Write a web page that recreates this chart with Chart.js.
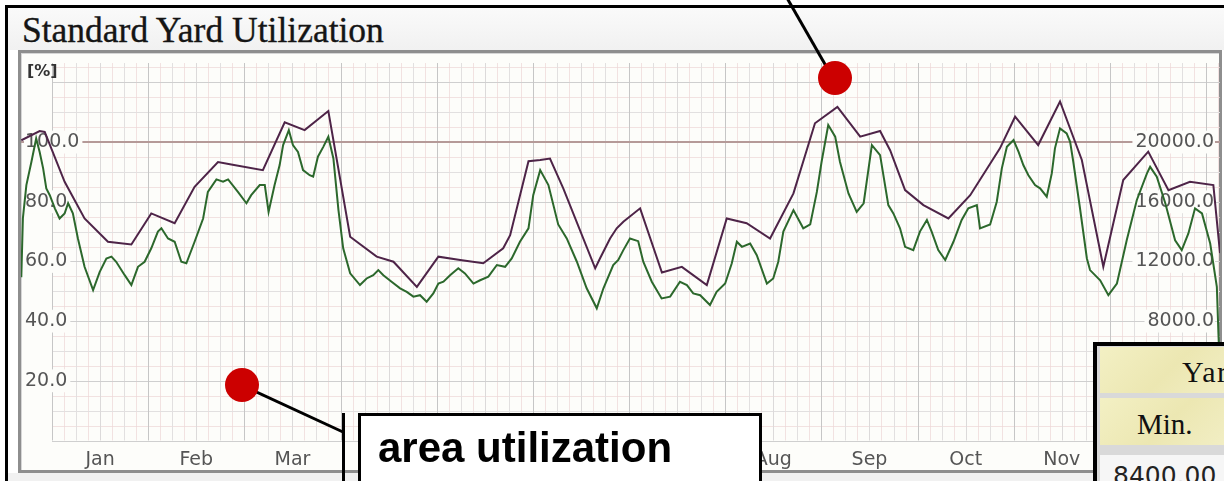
<!DOCTYPE html>
<html>
<head>
<meta charset="utf-8">
<title>Standard Yard Utilization</title>
<script src="https://cdn.jsdelivr.net/npm/chart.js@4.4.1/dist/chart.umd.min.js"></script>
<style>
    html, body { margin: 0; padding: 0; background: #fff; }
    #wrap { position: relative; width: 1224px; height: 481px; overflow: hidden; background: #fff; }
    .abs { position: absolute; }
    #frame { left: 5px; top: 5px; width: 1230px; height: 490px; border-left: 3px solid #000; border-top: 3px solid #000; }
    #header { left: 8px; top: 8px; width: 1216px; height: 42px; background: linear-gradient(#fafafa, #f1f1f1); }
    #title { left: 22px; top: 13px; font: 35.5px/35.5px "Liberation Serif", serif; color: #151515; white-space: nowrap; -webkit-text-stroke: 0.35px #151515; }
    #panel { left: 18px; top: 50px; width: 1198px; height: 417px; border: 3px solid #8e8e8e; background: #fdfdfa; box-shadow: inset 1px 1px 0 #d6d6d6; }
    #below { left: 8px; top: 473px; width: 1216px; height: 8px; background: #f1f1f1; }
    #chart { left: 0; top: 0; }
    #unit { left: 27px; top: 63px; font: bold 16px/16px "DejaVu Sans", sans-serif; color: #333; }
    #callout { left: 358px; top: 413px; width: 398px; height: 90px; border: 3px solid #000; background: #fff; box-sizing: content-box; }
    #callout span { position: absolute; left: 17px; top: 11px; font: bold 42px/42px "Liberation Sans", Arial, sans-serif; color: #000; white-space: nowrap; }
    #table { left: 1093px; top: 342px; width: 160px; height: 160px; border: 4px solid #000; background: #d9d9d9; }
    .cell { position: absolute; left: 3px; width: 160px; background: linear-gradient(135deg, #f3f0c4, #ece7b2 45%, #f4f1cc); }
    .cell span { position: absolute; font: 29px/29px "Liberation Serif", serif; color: #111; white-space: nowrap; }
    #valcell { position: absolute; left: 3px; top: 109px; width: 160px; height: 60px; background: #f6f6f6; }
    #valcell span { position: absolute; left: 13px; top: 8px; font: 25px/25px "DejaVu Sans", sans-serif; color: #222; }
</style>
</head>
<body>
<div id="wrap">
    <div id="frame" class="abs"></div>
    <div id="header" class="abs"></div>
    <div id="title" class="abs">Standard Yard Utilization</div>
    <div id="panel" class="abs"></div>
    <div id="below" class="abs"></div>
    <canvas id="chart" class="abs" width="1224" height="481"></canvas>
    <div id="unit" class="abs">[%]</div>
    <svg class="abs" style="left:0;top:0" width="1224" height="481">
        <line x1="787" y1="-2" x2="826" y2="66" stroke="#000" stroke-width="3"/>
        <circle cx="835" cy="78" r="17" fill="#cc0000"/>
        <line x1="250" y1="389" x2="343" y2="432" stroke="#000" stroke-width="3"/>
        <line x1="343.5" y1="413" x2="343.5" y2="485" stroke="#000" stroke-width="3"/>
        <circle cx="242" cy="385" r="17" fill="#cc0000"/>
    </svg>
    <div id="callout" class="abs"><span>area utilization</span></div>
    <div id="table" class="abs">
        <div class="cell" style="top:1px;height:46px"><span style="left:82px;top:10px;font-size:30px;letter-spacing:1.5px">Yard</span></div>
        <div class="cell" style="top:52px;height:47px"><span style="left:37px;top:12px">Min.</span></div>
        <div id="valcell"><span>8400.00</span></div>
    </div>
</div>

<script>
// month names on the x axis
const MONTHS = ['Jan', 'Feb', 'Mar', 'Apr', 'May', 'Jun', 'Jul', 'Aug', 'Sep', 'Oct', 'Nov', 'Dec'];

// percent ticks (left) and absolute ticks (right)
const PERCENT_TICKS = [20, 40, 60, 80, 100];
const AREA_TICKS = [4000, 8000, 12000, 16000, 20000];

// upper line (purple): day of year / utilization %
const capDays = [-9.7, -3.9, -2.3, 4.0, 10.3, 17.7, 25.1, 31.4, 38.8, 45.1, 52.5, 56.7, 66.7, 73.6, 79.9, 87.4,
    94.3, 96.4, 102.7, 108.0, 115.4, 122.2, 129.1, 136.4, 142.7, 144.9, 150.7, 154.4, 157.5, 161.7, 171.8, 173.3,
    176.5, 178.6, 180.7, 186.0, 192.9, 199.2, 207.1, 213.4, 219.7, 227.1, 234.5, 241.3, 248.4, 255.6, 261.9, 265.1,
    269.8, 275.6, 283.5, 290.4, 299.8, 304.6, 311.9, 318.8, 325.7, 332.5, 338.8, 346.7, 353.1, 359.9, 367.3, 369.4];
const capValues = [100.6, 103.7, 103.4, 86.7, 74.4, 66.6, 65.7, 76.1, 72.8, 85.0, 93.3, 92.5, 90.6, 106.6, 104.0, 110.4,
    68.3, 66.6, 61.6, 59.9, 51.5, 61.6, 60.5, 59.4, 64.4, 68.8, 93.6, 94.0, 94.5, 84.5, 57.7, 61.0,
    67.7, 71.1, 73.3, 77.8, 56.3, 58.2, 52.1, 74.4, 72.8, 67.7, 82.8, 106.3, 111.8, 101.8, 103.7, 97.2,
    83.9, 78.9, 74.4, 82.2, 97.9, 108.5, 99.0, 113.6, 94.0, 58.2, 87.3, 96.8, 83.9, 86.7, 85.6, 62.8];

// area utilization (green): day of year / utilization %
const areaDays = [-9.7, -9.2, -8.1, -6.5, -5.0, -3.9, -2.8, -1.8, -0.7, 0.9, 2.4, 4.0, 5.1, 6.6, 8.2, 10.3,
    13.0, 15.1, 17.2, 18.8, 20.3, 23.0, 25.1, 27.2, 29.3, 31.4, 33.5, 34.6, 36.7, 38.8, 40.9, 42.5,
    45.1, 47.8, 49.3, 52.0, 54.1, 55.7, 58.8, 61.5, 63.0, 65.7, 67.3, 68.5, 70.4, 72.0, 73.1, 74.9,
    76.2, 77.8, 79.4, 81.5, 82.6, 84.1, 85.8, 87.4, 89.0, 90.6, 92.1, 94.3, 97.4, 99.5, 101.6, 103.2,
    104.8, 107.4, 110.1, 112.2, 114.3, 116.4, 118.5, 120.6, 122.2, 123.8, 125.9, 128.5, 130.6, 133.3, 135.4, 138.0,
    140.7, 143.3, 145.4, 148.0, 150.7, 152.2, 154.4, 157.0, 160.1, 162.8, 166.0, 169.1, 172.3, 174.4, 177.5, 179.1,
    180.7, 182.8, 185.4, 187.0, 189.7, 192.8, 195.5, 198.6, 200.8, 202.8, 205.0, 208.1, 210.2, 212.9, 215.0, 216.6,
    218.2, 220.8, 222.9, 226.1, 228.1, 229.7, 231.3, 234.5, 237.6, 239.8, 241.9, 243.4, 245.5, 247.7, 249.2, 251.9,
    254.5, 256.7, 259.3, 261.9, 264.5, 266.1, 268.2, 269.8, 272.4, 274.5, 276.7, 278.2, 280.3, 282.5, 285.1, 287.7,
    289.8, 292.5, 293.5, 296.7, 298.8, 300.4, 302.0, 304.1, 305.7, 307.2, 308.8, 310.9, 312.5, 314.6, 316.2, 317.2,
    318.8, 320.9, 322.0, 323.0, 325.1, 327.3, 328.3, 331.5, 334.1, 336.8, 339.9, 343.1, 346.3, 347.3, 349.4, 352.1,
    355.2, 357.3, 359.4, 361.5, 363.7, 366.3, 368.4, 368.9, 369.2];
const areaValues = [54.7, 74.5, 85.6, 93.4, 101.2, 96.7, 91.2, 84.5, 82.2, 77.8, 74.4, 76.1, 79.5, 76.1, 67.7, 58.2,
    50.4, 56.5, 61.0, 61.6, 59.9, 55.4, 52.1, 58.2, 59.9, 64.4, 70.0, 71.1, 67.7, 66.6, 59.9, 59.4,
    66.6, 74.4, 83.3, 87.5, 86.7, 87.5, 83.3, 79.5, 82.2, 85.6, 85.6, 76.6, 85.6, 92.3, 99.0, 104.0,
    99.0, 96.7, 90.6, 88.9, 88.4, 95.1, 98.4, 101.8, 94.5, 77.2, 64.4, 56.0, 52.1, 54.3, 55.4, 57.1,
    55.4, 53.2, 51.0, 49.8, 48.2, 48.7, 46.5, 49.3, 52.6, 53.2, 55.4, 57.7, 56.0, 52.6, 53.7, 54.9,
    58.8, 58.2, 61.0, 66.6, 71.1, 82.2, 90.6, 85.6, 72.4, 67.7, 59.9, 51.0, 44.3, 51.0, 58.8, 60.5,
    63.8, 67.7, 66.8, 59.9, 53.2, 47.6, 48.2, 53.2, 52.1, 49.3, 48.7, 45.4, 49.8, 52.6, 59.4, 66.6,
    64.9, 66.0, 62.1, 52.6, 54.3, 59.9, 70.0, 77.2, 71.1, 72.4, 83.3, 93.4, 105.7, 101.8, 93.4, 82.8,
    76.6, 79.5, 99.0, 95.6, 78.9, 76.1, 71.1, 64.9, 63.8, 70.0, 73.9, 70.0, 63.8, 60.5, 66.6, 73.9,
    77.8, 78.9, 71.1, 72.4, 80.0, 91.2, 98.4, 100.7, 96.7, 92.3, 88.9, 85.6, 84.5, 81.7, 89.5, 97.9,
    104.6, 102.9, 100.1, 93.4, 78.0, 61.0, 57.1, 53.7, 48.7, 52.6, 67.1, 80.6, 89.5, 91.7, 88.4, 79.5,
    67.1, 63.8, 69.4, 77.8, 76.1, 66.0, 51.5, 35.9, 28.0];

// axis ranges
const X_MIN = -9.8;
const X_MAX = 369.4;
const Y_MAX = 126.5;
const AREA_PER_PERCENT = 200;
const MONTH_DAYS = 365 / 12;

const PANEL_BG = '#fdfdfa';
const TICK_FONT = { family: 'DejaVu Sans', size: 19 };

/**
 * Paper-style grid drawn behind axes and lines
 */
const yardGridPlugin = {
    id: 'yardGrid',
    beforeDraw(chart) {
        const { ctx, chartArea: area, scales } = chart;
        const x = scales.x;
        const y = scales.y;
        const x0 = x.getPixelForValue(0);

        function hLine(v, color, width) {
            const p = Math.round(y.getPixelForValue(v)) + (width % 2 ? 0.5 : 0);
            ctx.strokeStyle = color;
            ctx.lineWidth = width;
            ctx.beginPath();
            ctx.moveTo(x0, p);
            ctx.lineTo(area.right, p);
            ctx.stroke();
        }

        function vLine(d, color, width) {
            const p = Math.round(x.getPixelForValue(d)) + 0.5;
            ctx.strokeStyle = color;
            ctx.lineWidth = width;
            ctx.beginPath();
            ctx.moveTo(p, area.top);
            ctx.lineTo(p, y.getPixelForValue(0));
            ctx.stroke();
        }

        ctx.save();
        // finest pink lines
        for (let v = 5; v < Y_MAX; v += 10) hLine(v, 'rgba(236,214,214,0.7)', 1);
        for (let k = 1; k / 8 * MONTH_DAYS < X_MAX; k += 2) vLine(k / 8 * MONTH_DAYS, 'rgba(236,214,214,0.7)', 1);
        // light lines
        for (let v = 10; v < Y_MAX; v += 20) hLine(v, '#e2e0e0', 1);
        for (let k = 1; k / 4 * MONTH_DAYS < X_MAX; k += 2) vLine(k / 4 * MONTH_DAYS, '#e2e0e0', 1);
        for (let k = 2; k / 4 * MONTH_DAYS < X_MAX; k += 4) vLine(k / 4 * MONTH_DAYS, '#dcdada', 1);
        // major lines
        for (let v = 0; v < Y_MAX; v += 20) hLine(v, '#cfcfcf', 1);
        for (let m = 0; m * MONTH_DAYS < X_MAX; m++) vLine(m * MONTH_DAYS, '#c6c6c6', 1);
        // 100 % reference line
        const p100 = y.getPixelForValue(100);
        ctx.strokeStyle = '#b59a98';
        ctx.lineWidth = 2;
        ctx.beginPath();
        ctx.moveTo(area.left, p100);
        ctx.lineTo(area.right, p100);
        ctx.stroke();
        ctx.restore();
    }
};

function toPoints(days, values) {
    return days.map((d, i) => ({ x: d, y: values[i] }));
}

document.addEventListener('DOMContentLoaded', function () {
    const ctx = document.getElementById('chart');
    const monthCenters = MONTHS.map((m, i) => (i + 0.5) * MONTH_DAYS);

    new Chart(ctx, {
        type: 'line',
        data: {
            datasets: [{
                label: 'Capacity',
                data: toPoints(capDays, capValues),
                borderColor: '#4e2448',
                borderWidth: 2,
                pointRadius: 0,
                tension: 0
            }, {
                label: 'Area utilization',
                data: toPoints(areaDays, areaValues),
                borderColor: '#2c682c',
                borderWidth: 2,
                pointRadius: 0,
                tension: 0
            }]
        },
        options: {
            responsive: false,
            animation: false,
            devicePixelRatio: 1,
            layout: { padding: { left: 21, right: 4, top: 63, bottom: 10.5 } },
            plugins: {
                legend: { display: false },
                tooltip: { enabled: false }
            },
            scales: {
                x: {
                    type: 'linear',
                    min: X_MIN,
                    max: X_MAX,
                    grid: { display: false },
                    border: { display: false },
                    afterFit: s => { s.height = 30; },
                    afterBuildTicks: s => { s.ticks = monthCenters.map(v => ({ value: v })); },
                    ticks: {
                        autoSkip: false,
                        maxRotation: 0,
                        padding: 0,
                        color: '#555',
                        font: TICK_FONT,
                        callback: (v, i) => MONTHS[i]
                    }
                },
                y: {
                    position: 'left',
                    min: 0,
                    max: Y_MAX,
                    grid: { display: false },
                    border: { display: false },
                    afterFit: s => { s.width = 0; },
                    afterBuildTicks: s => { s.ticks = PERCENT_TICKS.map(v => ({ value: v })); },
                    ticks: {
                        mirror: true,
                        padding: 4,
                        color: '#555',
                        font: TICK_FONT,
                        showLabelBackdrop: true,
                        backdropColor: PANEL_BG,
                        backdropPadding: { top: 0, bottom: 0, left: 1, right: 3 },
                        callback: v => v.toFixed(1)
                    }
                },
                y2: {
                    position: 'right',
                    min: 0,
                    max: Y_MAX * AREA_PER_PERCENT,
                    grid: { display: false },
                    border: { display: false },
                    afterFit: s => { s.width = 0; },
                    afterBuildTicks: s => { s.ticks = AREA_TICKS.map(v => ({ value: v })); },
                    ticks: {
                        mirror: true,
                        padding: -6,
                        color: '#555',
                        font: TICK_FONT,
                        showLabelBackdrop: true,
                        backdropColor: PANEL_BG,
                        backdropPadding: { top: 0, bottom: 0, left: 3, right: 1 },
                        callback: v => v.toFixed(1)
                    }
                }
            }
        },
        plugins: [yardGridPlugin]
    });
});
</script>
</body>
</html>
